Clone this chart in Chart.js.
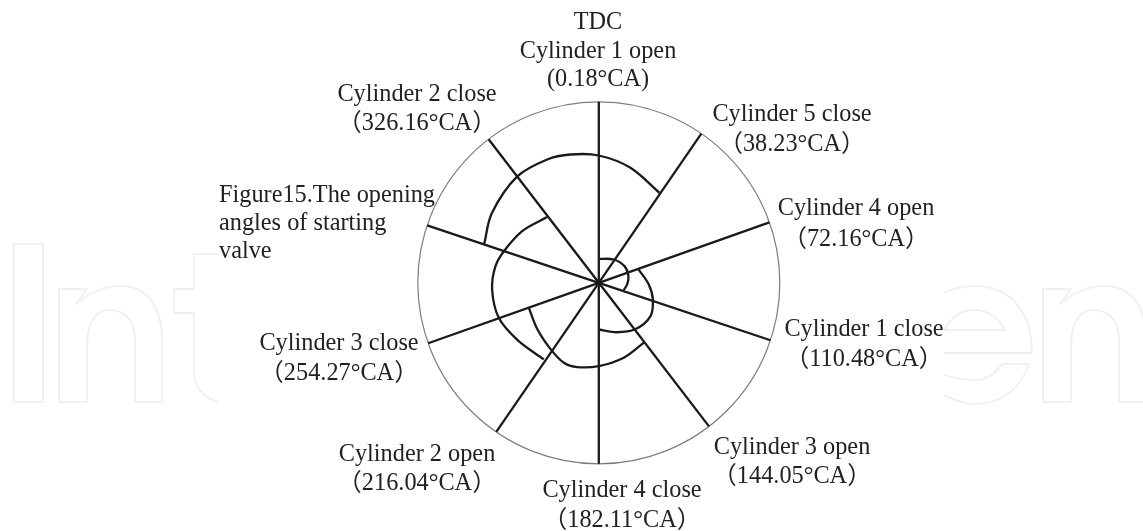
<!DOCTYPE html>
<html>
<head>
<meta charset="utf-8">
<title>Figure 15</title>
<script src="https://cdn.jsdelivr.net/npm/chart.js@4/dist/chart.umd.min.js"></script>
<style>
    html, body { margin: 0; padding: 0; background: #fff; }
    #wrap { width: 1143px; height: 531px; }
</style>
</head>
<body>
<div id="wrap"><canvas id="valveChart"></canvas></div>
<script>
// Spoke angles as drawn in the figure (deg, clockwise from TDC)
const spokeAngles = [0, 34.5, 70.5, 108.5, 142.5, 180, 214.5, 250.5, 288.5, 322.5];
const outerRadius = 181;

// Opening arcs: angle (deg) and radius
const arc1Angles = [0, 32.7, 57, 77, 93, 106];
const arc1Radii = [24, 27.7, 30.6, 30.4, 28.4, 26];
const arc2Angles = [71.6, 92, 107, 123, 142, 160, 180];
const arc2Radii = [42, 50, 56.5, 61.5, 59, 52.6, 46.7];
const arc3Angles = [143, 161.6, 180, 194.4, 203.6, 216, 232.9, 250.3];
const arc3Radii = [75, 79, 83.3, 87, 87.3, 82, 77, 74.3];
const arc4Angles = [215.7, 234.8, 250.7, 266.4, 279, 288.4, 304, 321.8];
const arc4Radii = [94.3, 99.4, 106, 106.9, 104.7, 100, 92.4, 83.6];
const arc5Angles = [288.8, 303, 322.4, 337.3, 347.5, 360, 375.4, 394];
const arc5Radii = [121, 127.6, 134, 133.7, 131.4, 127.3, 119.3, 108.5];

const labelTexts = [
    'TDC', 'Cylinder 1 open', '(0.18°CA)',
    'Cylinder 5 close', '（38.23°CA）',
    'Cylinder 4 open', '（72.16°CA）',
    'Cylinder 1 close', '（110.48°CA）',
    'Cylinder 3 open', '（144.05°CA）',
    'Cylinder 4 close', '（182.11°CA）',
    'Cylinder 2 open', '（216.04°CA）',
    'Cylinder 3 close', '（254.27°CA）',
    'Cylinder 2 close', '（326.16°CA）'
];
const captionLines = ['Figure15.The opening', 'angles of starting', 'valve'];

// Where the texts sit on the page (same order as labelTexts)
const labelX = [598, 598, 598, 792, 792, 856, 856, 864, 864, 792, 792, 622, 622, 417, 417, 339, 339, 417, 417];
const labelY = [23, 52, 80, 115, 145, 209, 240, 330, 360, 448, 477, 491, 521, 455, 484, 344, 374, 95, 124];
const captionX = 219;
const captionY = [196, 224, 252];

function toPoint(angle, radius) {
    const rad = angle * Math.PI / 180;
    return { x: radius * Math.sin(rad), y: radius * Math.cos(rad) };
}

function spokeDataset(angle) {
    return {
        data: [toPoint(angle, 0), toPoint(angle, outerRadius)],
        showLine: true,
        borderColor: '#1a1a1a',
        borderWidth: 2.3,
        pointRadius: 0,
        tension: 0
    };
}

function arcDataset(angles, radii) {
    return {
        data: angles.map((a, i) => toPoint(a, radii[i])),
        showLine: true,
        borderColor: '#1a1a1a',
        borderWidth: 2.3,
        pointRadius: 0,
        tension: 0.33
    };
}

// Outlined publisher letters behind the chart
function drawWatermark(ctx) {
    const n = (dx) => {
        ctx.beginPath();
        ctx.moveTo(59 + dx, 289);
        ctx.lineTo(87 + dx, 289);
        ctx.lineTo(76 + dx, 304);
        ctx.bezierCurveTo(90 + dx, 292, 104 + dx, 286, 120 + dx, 286);
        ctx.bezierCurveTo(148 + dx, 286, 162 + dx, 308, 162 + dx, 340);
        ctx.lineTo(162 + dx, 402);
        ctx.lineTo(135 + dx, 402);
        ctx.lineTo(135 + dx, 340);
        ctx.bezierCurveTo(135 + dx, 320, 124 + dx, 310, 110 + dx, 310);
        ctx.bezierCurveTo(96 + dx, 310, 87 + dx, 322, 87 + dx, 345);
        ctx.lineTo(87 + dx, 402);
        ctx.lineTo(59 + dx, 402);
        ctx.closePath();
        ctx.stroke();
    };

    ctx.save();
    ctx.strokeStyle = '#eff1f1';
    ctx.lineWidth = 2;
    ctx.lineJoin = 'round';

    ctx.strokeRect(13.5, 244, 29.5, 158);
    n(0);

    // t, cut off by the white box around the figure
    ctx.beginPath();
    ctx.moveTo(219, 254);
    ctx.lineTo(194, 254);
    ctx.lineTo(194, 289);
    ctx.lineTo(174, 289);
    ctx.lineTo(174, 313);
    ctx.lineTo(194, 313);
    ctx.lineTo(194, 370);
    ctx.bezierCurveTo(194, 388, 204, 398, 219, 402);
    ctx.stroke();

    // e, cut off on its left
    ctx.beginPath();
    ctx.moveTo(944, 293);
    ctx.bezierCurveTo(954, 288, 964, 286, 975, 286);
    ctx.bezierCurveTo(1012, 286, 1032, 314, 1032, 353);
    ctx.lineTo(944, 353);
    ctx.moveTo(944, 330);
    ctx.lineTo(1004, 330);
    ctx.bezierCurveTo(1000, 318, 988, 310, 974, 310);
    ctx.bezierCurveTo(961, 310, 951, 318, 944, 330);
    ctx.moveTo(944, 375);
    ctx.bezierCurveTo(951, 377, 962, 380, 975, 380);
    ctx.bezierCurveTo(987, 380, 996, 373, 1002, 364);
    ctx.lineTo(1029, 364);
    ctx.bezierCurveTo(1020, 390, 1000, 404, 975, 404);
    ctx.bezierCurveTo(964, 404, 954, 400, 944, 395);
    ctx.stroke();

    n(984);
    ctx.restore();
}

const figurePlugin = {
    id: 'figurePlugin',
    beforeDatasetsDraw(chart) {
        const { ctx, scales: { x, y } } = chart;
        drawWatermark(ctx);

        const cx = x.getPixelForValue(0);
        const cy = y.getPixelForValue(0);
        const r = x.getPixelForValue(outerRadius) - cx;
        ctx.save();
        ctx.strokeStyle = '#7d7d7d';
        ctx.lineWidth = 1.2;
        ctx.beginPath();
        ctx.arc(cx, cy, r, 0, Math.PI * 2);
        ctx.stroke();
        ctx.restore();
    },
    afterDatasetsDraw(chart) {
        const { ctx } = chart;
        ctx.save();
        ctx.fillStyle = '#222';
        ctx.font = '24.3px "Liberation Serif", "Noto Sans CJK SC", serif';
        ctx.textBaseline = 'middle';
        ctx.textAlign = 'center';
        labelTexts.forEach((t, i) => ctx.fillText(t, labelX[i], labelY[i]));
        ctx.textAlign = 'left';
        captionLines.forEach((t, i) => ctx.fillText(t, captionX, captionY[i]));
        ctx.restore();
    }
};

const datasets = [
    ...spokeAngles.map(spokeDataset),
    arcDataset(arc1Angles, arc1Radii),
    arcDataset(arc2Angles, arc2Radii),
    arcDataset(arc3Angles, arc3Radii),
    arcDataset(arc4Angles, arc4Radii),
    arcDataset(arc5Angles, arc5Radii)
];

new Chart(document.getElementById('valveChart').getContext('2d'), {
    type: 'scatter',
    data: { datasets },
    options: {
        responsive: true,
        maintainAspectRatio: false,
        animation: false,
        layout: { padding: 0 },
        plugins: { legend: { display: false }, tooltip: { enabled: false } },
        scales: {
            // one axis unit is one pixel, origin on the centre of the circle
            x: { display: false, min: -598.8, max: 544.2 },
            y: { display: false, min: -248.2, max: 282.8 }
        }
    },
    plugins: [figurePlugin]
});
</script>
</body>
</html>
